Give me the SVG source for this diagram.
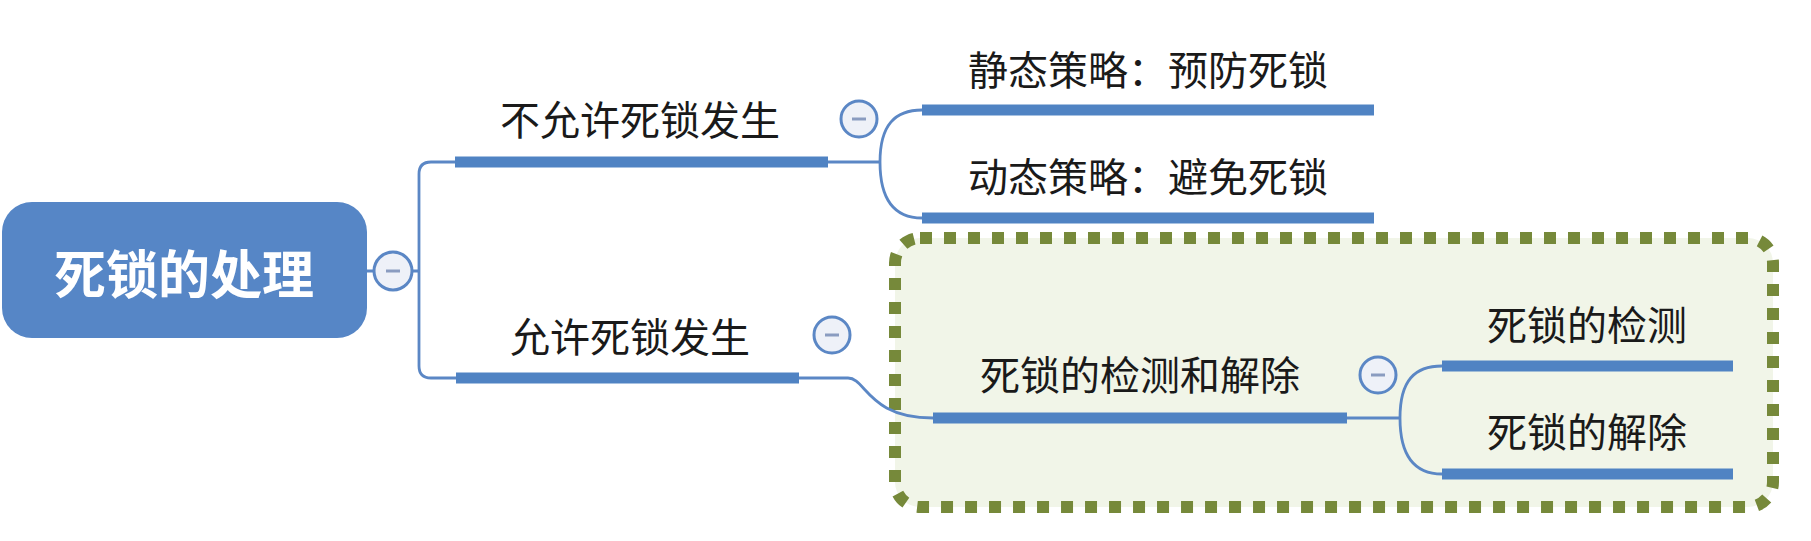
<svg xmlns="http://www.w3.org/2000/svg" width="1811" height="541" viewBox="0 0 1811 541">
<style>
.t{font-family:"Noto Sans CJK SC","Noto Sans",sans-serif;font-size:40px;fill:#1a1a1a;text-anchor:middle}
.root{font-family:"Noto Sans CJK SC","Noto Sans",sans-serif;font-size:52px;font-weight:bold;fill:#ffffff;text-anchor:middle}
.bar{stroke:#5083c3;stroke-width:11;stroke-linecap:butt}
.c{fill:none;stroke:#5b87c5;stroke-width:2.8}
.col circle{fill:#eef1f8;stroke:#5b87c5;stroke-width:3}
.col line{stroke:#8a9cc0;stroke-width:3}
</style>
<rect id="boundary" x="895" y="238" width="878" height="269" rx="25" ry="25" fill="#f1f5e8" stroke="#76893a" stroke-width="12" stroke-dasharray="12 12"/>
<g id="connectors">
<path class="c" d="M367,271 H374 M412,271 H419"/>
<path class="c" d="M456,162 H431 Q419,162 419,174 V366 Q419,378 431,378 H456"/>
<path class="c" d="M828,162 H880 M880,162 C880,125 895,110 922,110 M880,162 C880,200 895,218 922,218"/>
<path class="c" d="M799,378 H848 C866,378 868,418 933,418"/>
<path class="c" d="M1347,418 H1400 M1400,418 C1400,380 1415,366 1442,366 M1400,418 C1400,456 1415,474 1442,474"/>
</g>
<g id="root">
<rect x="2" y="202" width="365" height="136" rx="30" ry="30" fill="#5686c6"/>
<text class="root" x="184" y="294">死锁的处理</text>
</g>
<g id="n-not-allow">
<line class="bar" x1="455" y1="162" x2="828" y2="162"/>
<text class="t" x="640" y="135">不允许死锁发生</text>
</g>
<g id="n-static">
<line class="bar" x1="922" y1="110" x2="1374" y2="110"/>
<text class="t" x="1148" y="85">静态策略：预防死锁</text>
</g>
<g id="n-dynamic">
<line class="bar" x1="922" y1="218" x2="1374" y2="218"/>
<text class="t" x="1148" y="192">动态策略：避免死锁</text>
</g>
<g id="n-allow">
<line class="bar" x1="456" y1="378" x2="799" y2="378"/>
<text class="t" x="630" y="352">允许死锁发生</text>
</g>
<g id="n-detect-recover">
<line class="bar" x1="933" y1="418" x2="1347" y2="418"/>
<text class="t" x="1140" y="390">死锁的检测和解除</text>
</g>
<g id="n-detect">
<line class="bar" x1="1442" y1="366" x2="1733" y2="366"/>
<text class="t" x="1587" y="340">死锁的检测</text>
</g>
<g id="n-recover">
<line class="bar" x1="1442" y1="474" x2="1733" y2="474"/>
<text class="t" x="1587" y="447">死锁的解除</text>
</g>
<g id="collapse-root" class="col"><circle cx="393" cy="271" r="19"/><line x1="386" y1="271" x2="400" y2="271"/></g>
<g id="collapse-not-allow" class="col"><circle cx="859" cy="119" r="18"/><line x1="852" y1="119" x2="866" y2="119"/></g>
<g id="collapse-allow" class="col"><circle cx="832" cy="335" r="18"/><line x1="825" y1="335" x2="839" y2="335"/></g>
<g id="collapse-detect-recover" class="col"><circle cx="1378" cy="375" r="18"/><line x1="1371" y1="375" x2="1385" y2="375"/></g>
</svg>
